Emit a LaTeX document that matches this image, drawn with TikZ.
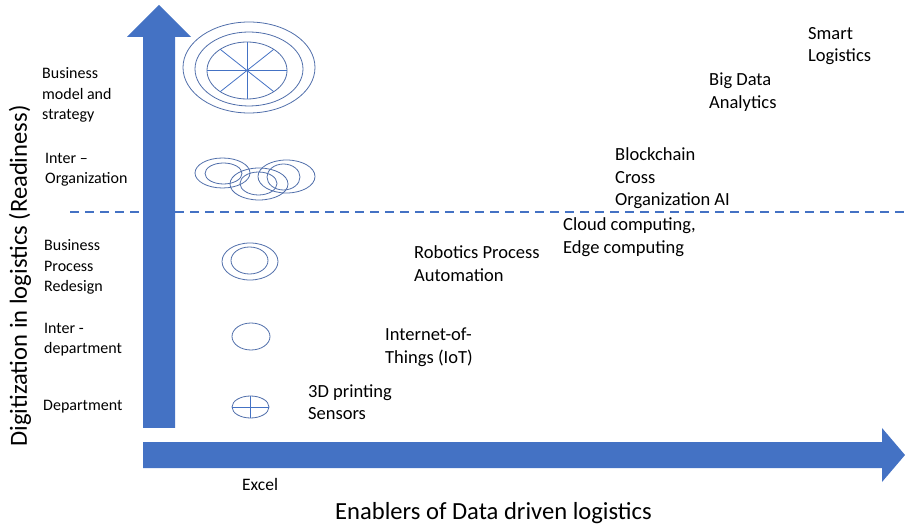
\documentclass[tikz,border=0pt]{standalone}
\usepackage{fontspec}
\setmainfont{Carlito}
\usetikzlibrary{calc}
\definecolor{axisblue}{RGB}{68,114,196}
\definecolor{linkblue}{RGB}{80,110,170}
\begin{document}
\begin{tikzpicture}[x=1pt,y=-1pt,
  lvl/.style={anchor=west,inner sep=0pt,align=left,font=\fontsize{16}{20.3}\selectfont},
  tech/.style={anchor=west,inner sep=0pt,align=left,font=\fontsize{18.5}{22.5}\selectfont},
  axtitle/.style={anchor=base,inner sep=0pt,font=\fontsize{24.6}{28}\selectfont},
  ring/.style={draw=linkblue,line width=0.8pt},
  spoke/.style={draw=axisblue,line width=0.8pt}]
\useasboundingbox (0,0) rectangle (905,526);

% axes as block arrows
\fill[axisblue] (143,428) -- (143,37) -- (127,37) -- (159,5) -- (191,37) -- (175,37) -- (175,428) -- cycle;
\fill[axisblue] (143,442) -- (882,442) -- (882,428) -- (905,455) -- (882,482) -- (882,468) -- (143,468) -- cycle;

% threshold line
\coordinate (dl) at (70,212);
\coordinate (dr) at (905,212);
\draw[axisblue,line width=1.3pt,dash pattern=on 9pt off 6pt] (dl) -- (dr);

% level symbols
% business model and strategy: wheel in three rings
\coordinate (hub) at (247,70.5);
\draw[ring] (249,67.5) ellipse [x radius=66,y radius=45.5];
\draw[ring] (249,69) ellipse [x radius=54,y radius=37];
\draw[ring] (hub) ellipse [x radius=40,y radius=28.5];
\foreach \a in {0,48,90,132}
  \draw[spoke] ($(hub)+({40*cos(\a)},{28.5*sin(\a)})$) -- ($(hub)-({40*cos(\a)},{28.5*sin(\a)})$);
% inter-organization: three double rings
\draw[ring] (222.5,173) ellipse [x radius=27.5,y radius=15];
\draw[ring] (223.5,173.5) ellipse [x radius=18.5,y radius=10.5];
\draw[ring] (259,184) ellipse [x radius=29,y radius=16];
\draw[ring] (258.5,183.5) ellipse [x radius=18.5,y radius=11.5];
\draw[ring] (286.5,176.5) ellipse [x radius=28.5,y radius=16.5];
\draw[ring] (283.5,177) ellipse [x radius=16.5,y radius=13];
% business process redesign
\draw[ring] (250,261.5) ellipse [x radius=28,y radius=18.5];
\draw[ring] (249.5,260.5) ellipse [x radius=18.5,y radius=13.5];
% inter-department
\draw[ring] (251,336.5) ellipse [x radius=19,y radius=13.5];
% department
\draw[ring] (250.5,407) ellipse [x radius=18.5,y radius=11];
\draw[spoke] (232,407) -- (269,407);
\draw[spoke] (250.5,396) -- (250.5,418);

% level labels
\node[lvl] (bms) at (42,95) {Business\\model and\\strategy};
\node[lvl] (ior) at (45,170) {Inter --\\Organization};
\node[lvl] (bpr) at (44,267) {Business\\Process\\Redesign};
\node[lvl] (idp) at (44,339.5) {Inter -\\department};
\node[lvl] (dep) at (43,407) {Department};

% enablers
\node[tech] (sl) at (808,46) {Smart\\Logistics};
\node[tech] (bda) at (709,92) {Big Data\\Analytics};
\node[tech] (bc) at (615,178.5) {Blockchain\\Cross\\Organization AI};
\node[tech] (cc) at (563,237) {Cloud computing,\\Edge computing};
\node[tech] (rpa) at (414,263.5) {Robotics Process\\Automation};
\node[tech] (iot) at (385,347) {Internet-of-\\Things (IoT)};
\node[tech] (tdp) at (308,402) {3D printing\\Sensors};
\node[tech,font=\fontsize{17.5}{21}\selectfont] (xl) at (242,484) {Excel};

% axis titles
\node[axtitle] (xt) at (493.5,519) {Enablers of Data driven logistics};
\node[axtitle,rotate=90] (yt) at (27,276) {Digitization in logistics (Readiness)};
\end{tikzpicture}
\end{document}
